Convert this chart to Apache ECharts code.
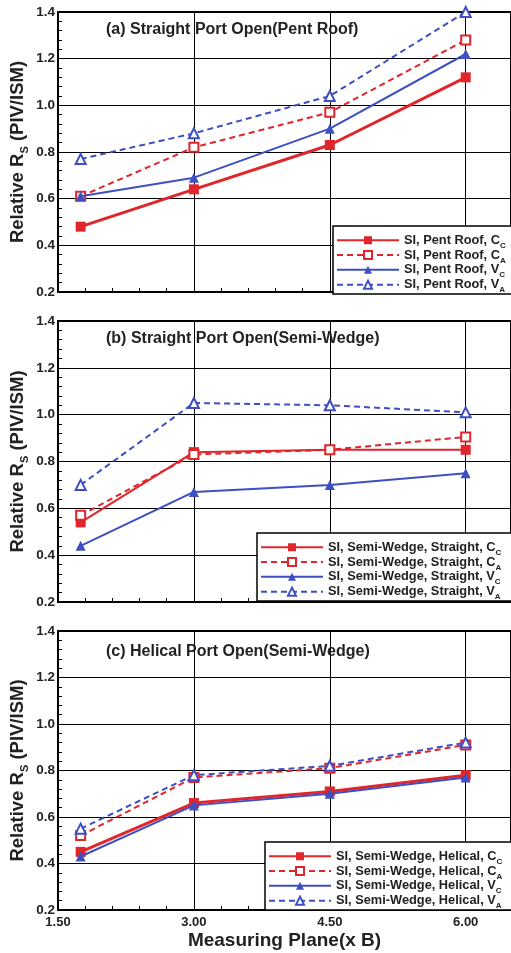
<!DOCTYPE html>
<html>
<head>
<meta charset="utf-8">
<script src="https://cdn.jsdelivr.net/npm/echarts@6/dist/echarts.min.js"></script>
<style>
  html, body { margin: 0; padding: 0; background: #fff; }
  #chart { width: 511px; height: 953px; }
</style>
</head>
<body>
<div id="chart"></div>
<script>
// measuring planes (x B)
const planes = [1.75, 3.0, 4.5, 6.0];

const panelTitles = [
  '(a) Straight Port Open(Pent Roof)',
  '(b) Straight Port Open(Semi-Wedge)',
  '(c) Helical Port Open(Semi-Wedge)'
];
const legendPrefix = ['SI, Pent Roof, ', 'SI, Semi-Wedge, Straight, ', 'SI, Semi-Wedge, Helical, '];
const seriesKeys = ['C_C', 'C_A', 'V_C', 'V_A'];

// panel (a)
const aCC = [0.48, 0.64, 0.83, 1.12];
const aCA = [0.61, 0.82, 0.97, 1.28];
const aVC = [0.61, 0.69, 0.90, 1.22];
const aVA = [0.77, 0.88, 1.04, 1.40];
// panel (b)
const bCC = [0.54, 0.84, 0.85, 0.85];
const bCA = [0.57, 0.83, 0.85, 0.905];
const bVC = [0.44, 0.67, 0.70, 0.75];
const bVA = [0.70, 1.05, 1.04, 1.01];
// panel (c)
const cCC = [0.45, 0.66, 0.71, 0.78];
const cCA = [0.52, 0.77, 0.81, 0.91];
const cVC = [0.43, 0.65, 0.70, 0.77];
const cVA = [0.55, 0.78, 0.82, 0.92];

const panelData = [[aCC, aCA, aVC, aVA], [bCC, bCA, bVC, bVA], [cCC, cCA, cVC, cVA]];

const yTicks = [0.2, 1.4, 0.2]; // min, max, interval
const xTicks = [1.5, 6.5, 1.5];

const RED = '#e0252b';
const BLUE = '#3d4fc2';
const FONT = '"Liberation Sans", Arial, sans-serif';

const grids = [
  { left: 58, right: 0, top: 12, height: 280 },
  { left: 58, right: 0, top: 321, height: 281 },
  { left: 58, right: 0, top: 631, height: 279 }
];
const legendPos = [
  { left: 333, top: 226 },
  { left: 257, top: 533 },
  { left: 265, top: 842 }
];
const titleTops = [22, 331, 644];

const styles = [
  { color: RED, dash: 'solid', symbol: 'rect', size: 10 },
  { color: RED, dash: [6, 4], symbol: 'emptyRect', size: 9 },
  { color: BLUE, dash: 'solid', symbol: 'triangle', size: 10 },
  { color: BLUE, dash: [6, 4], symbol: 'emptyTriangle', size: 10 }
];

function seriesName(p, k) {
  return legendPrefix[p] + k;
}

const series = [];
const legends = [];
const xAxes = [];
const yAxes = [];
const titles = [];

panelData.forEach((group, p) => {
  group.forEach((vals, i) => {
    const st = styles[i];
    let w = 2;
    if (i === 0 && p !== 1) w = 3;
    series.push({
      name: seriesName(p, seriesKeys[i]),
      type: 'line',
      xAxisIndex: p,
      yAxisIndex: p,
      data: planes.map((x, j) => [x, vals[j]]),
      symbol: st.symbol,
      symbolSize: st.size,
      clip: false,
      itemStyle: { color: st.color },
      lineStyle: { color: st.color, width: w, type: st.dash },
      z: 3 + i
    });
  });

  legends.push({
    orient: 'vertical',
    left: legendPos[p].left,
    top: legendPos[p].top,
    padding: [7, 30, 0, 3],
    itemGap: -1.7,
    itemWidth: 62,
    itemHeight: 10,
    backgroundColor: '#fff',
    borderColor: '#000',
    borderWidth: 1.5,
    borderRadius: 0,
    selectedMode: false,
    data: seriesKeys.map(k => seriesName(p, k)),
    formatter: function (name) {
      const k = name.slice(-3);
      return name.slice(0, -3) + k[0] + '{sub|' + k[2] + '}';
    },
    textStyle: {
      fontFamily: FONT,
      fontWeight: 'bold',
      fontSize: 12.8,
      lineHeight: 14.5,
      color: '#222',
      rich: {
        sub: { fontFamily: FONT, fontWeight: 'bold', fontSize: 8, color: '#222', verticalAlign: 'bottom', lineHeight: 14.5, padding: [0, 0, -2, 0] }
      }
    }
  });

  titles.push({
    text: panelTitles[p],
    left: 106,
    top: titleTops[p],
    padding: 0,
    textStyle: { fontFamily: FONT, fontWeight: 'bold', fontSize: 16, color: '#222' }
  });

  const last = p === 2;
  xAxes.push({
    type: 'value',
    gridIndex: p,
    min: xTicks[0],
    max: xTicks[1],
    interval: xTicks[2],
    name: last ? 'Measuring Plane(x B)' : '',
    nameLocation: 'middle',
    nameGap: 21,
    nameTextStyle: { fontFamily: FONT, fontWeight: 'bold', fontSize: 19, color: '#222' },
    axisLine: { show: true, lineStyle: { color: '#000', width: 2 } },
    axisTick: { show: true, inside: true, length: 5, lineStyle: { color: '#000' } },
    minorTick: { show: true, splitNumber: 5, length: 4, lineStyle: { color: '#000' } },
    splitLine: { show: true, lineStyle: { color: '#000', width: 1 } },
    axisLabel: {
      show: last,
      showMaxLabel: false,
      margin: 6,
      fontFamily: FONT,
      fontWeight: 'bold',
      fontSize: 13,
      color: '#222',
      formatter: v => v.toFixed(2)
    }
  });

  yAxes.push({
    type: 'value',
    gridIndex: p,
    min: yTicks[0],
    max: yTicks[1],
    interval: yTicks[2],
    name: 'Relative R{sub|S} (PIV/ISM)',
    nameLocation: 'middle',
    nameGap: 31,
    nameMoveOverlap: false,
    nameTextStyle: {
      fontFamily: FONT, fontWeight: 'bold', fontSize: 18.5, color: '#222',
      rich: { sub: { fontFamily: FONT, fontWeight: 'bold', fontSize: 11, color: '#222', verticalAlign: 'bottom', padding: [0, 0, -3, 0] } }
    },
    axisLine: { show: true, lineStyle: { color: '#000', width: 2 } },
    axisTick: { show: true, inside: true, length: 5, lineStyle: { color: '#000' } },
    minorTick: { show: true, splitNumber: 5, length: 4, lineStyle: { color: '#000' } },
    splitLine: { show: true, lineStyle: { color: '#000', width: 1 } },
    axisLabel: {
      margin: 3,
      fontFamily: FONT,
      fontWeight: 'bold',
      fontSize: 13.5,
      color: '#222',
      formatter: v => v.toFixed(1)
    }
  });
});

const chart = echarts.init(document.getElementById('chart'), null, { renderer: 'canvas' });
chart.setOption({
  animation: false,
  backgroundColor: '#fff',
  title: titles,
  grid: grids.map(g => Object.assign({
    show: true, borderColor: '#000', borderWidth: 2, backgroundColor: 'transparent',
    containLabel: false, outerBoundsMode: 'none'
  }, g)),
  xAxis: xAxes,
  yAxis: yAxes,
  legend: legends,
  series: series
});
</script>
</body>
</html>
